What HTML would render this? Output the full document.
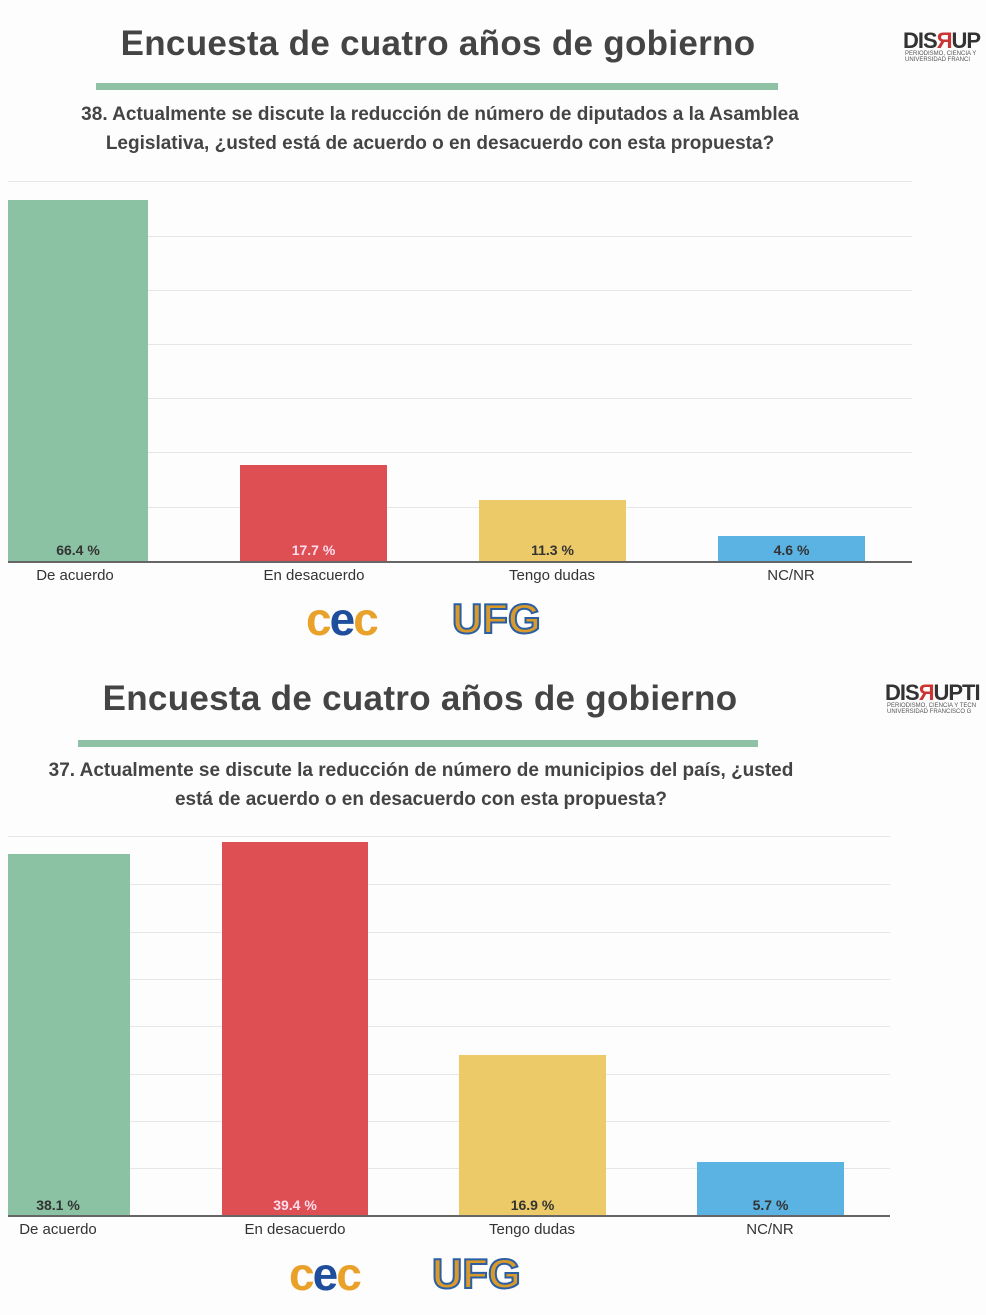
<!DOCTYPE html>
<html><head><meta charset="utf-8"><style>
body{margin:0;width:986px;height:1315px;background:#fdfdfd;position:relative;overflow:hidden;font-family:"Liberation Sans",sans-serif;}
.a{position:absolute}
.t{font-size:35px;font-weight:bold;color:#444;white-space:nowrap;transform:translateX(-50%);letter-spacing:0.3px}
.q{font-size:19px;font-weight:bold;color:#444;text-align:center;line-height:29px;white-space:nowrap;transform:translateX(-50%)}
.g{height:1px;background:#e6e6e6}
.v{font-size:14px;font-weight:bold;text-align:center}
.c{font-size:15px;color:#333;text-align:center;transform:translateX(-50%);white-space:nowrap}
.logo{font-size:46px;font-weight:900}
</style></head><body>
<!-- chart 1 -->
<div class="a t" style="left:438px;top:24px">Encuesta de cuatro años de gobierno</div>
<div class="a" style="left:96px;top:83px;width:682px;height:7px;background:#8fc2a5"></div>
<div class="a q" style="left:440px;top:100px">38. Actualmente se discute la reducción de número de diputados a la Asamblea<br>Legislativa, ¿usted está de acuerdo o en desacuerdo con esta propuesta?</div>
<div class="a" style="left:903px;top:28px;font-size:22px;font-weight:bold;color:#333;letter-spacing:-1px">DIS<span style="color:#c33">Я</span>UP</div>
<div class="a" style="left:905px;top:51px;font-size:6px;color:#555;line-height:6px">PERIODISMO, CIENCIA Y<br>UNIVERSIDAD FRANCI</div>
<div class="a g" style="left:8px;top:181px;width:904px"></div>
<div class="a g" style="left:8px;top:236px;width:904px"></div>
<div class="a g" style="left:8px;top:290px;width:904px"></div>
<div class="a g" style="left:8px;top:344px;width:904px"></div>
<div class="a g" style="left:8px;top:398px;width:904px"></div>
<div class="a g" style="left:8px;top:452px;width:904px"></div>
<div class="a g" style="left:8px;top:507px;width:904px"></div>
<div class="a" style="left:8px;top:200px;width:140px;height:362px;background:#8cc2a4"></div>
<div class="a" style="left:240px;top:465px;width:147px;height:97px;background:#dd4f53"></div>
<div class="a" style="left:479px;top:500px;width:147px;height:62px;background:#ecca68"></div>
<div class="a" style="left:718px;top:536px;width:147px;height:26px;background:#5bb3e3"></div>
<div class="a" style="left:8px;top:561px;width:904px;height:2px;background:#666"></div>
<div class="a v" style="left:8px;top:542px;width:140px;color:#333">66.4 %</div>
<div class="a v" style="left:240px;top:542px;width:147px;color:#fde">17.7 %</div>
<div class="a v" style="left:479px;top:542px;width:147px;color:#333">11.3 %</div>
<div class="a v" style="left:718px;top:542px;width:147px;color:#333">4.6 %</div>
<div class="a c" style="left:75px;top:567px">De acuerdo</div>
<div class="a c" style="left:314px;top:567px">En desacuerdo</div>
<div class="a c" style="left:552px;top:567px">Tengo dudas</div>
<div class="a c" style="left:791px;top:567px">NC/NR</div>
<div class="a logo" style="left:306px;top:592px;color:#e9a12a;letter-spacing:-2px">c<span style="color:#1f4e9c">e</span>c</div>
<div class="a logo" style="left:452px;top:595px;color:#d99a2b;font-size:42px;-webkit-text-stroke:2px #2a5fa3">UFG</div>
<!-- chart 2 -->
<div class="a t" style="left:420px;top:679px">Encuesta de cuatro años de gobierno</div>
<div class="a" style="left:78px;top:740px;width:680px;height:7px;background:#8fc2a5"></div>
<div class="a q" style="left:421px;top:756px">37. Actualmente se discute la reducción de número de municipios del país, ¿usted<br>está de acuerdo o en desacuerdo con esta propuesta?</div>
<div class="a" style="left:885px;top:680px;font-size:22px;font-weight:bold;color:#333;letter-spacing:-1px">DIS<span style="color:#c33">Я</span>UPTI</div>
<div class="a" style="left:887px;top:703px;font-size:6px;color:#555;line-height:6px">PERIODISMO, CIENCIA Y TECN<br>UNIVERSIDAD FRANCISCO G</div>
<div class="a g" style="left:8px;top:836px;width:882px"></div>
<div class="a g" style="left:8px;top:884px;width:882px"></div>
<div class="a g" style="left:8px;top:932px;width:882px"></div>
<div class="a g" style="left:8px;top:979px;width:882px"></div>
<div class="a g" style="left:8px;top:1026px;width:882px"></div>
<div class="a g" style="left:8px;top:1074px;width:882px"></div>
<div class="a g" style="left:8px;top:1121px;width:882px"></div>
<div class="a g" style="left:8px;top:1168px;width:882px"></div>
<div class="a" style="left:8px;top:854px;width:122px;height:362px;background:#8cc2a4"></div>
<div class="a" style="left:222px;top:842px;width:146px;height:374px;background:#dd4f53"></div>
<div class="a" style="left:459px;top:1055px;width:147px;height:161px;background:#ecca68"></div>
<div class="a" style="left:697px;top:1162px;width:147px;height:54px;background:#5bb3e3"></div>
<div class="a" style="left:8px;top:1215px;width:882px;height:2px;background:#666"></div>
<div class="a v" style="left:8px;top:1197px;width:100px;color:#333">38.1 %</div>
<div class="a v" style="left:222px;top:1197px;width:146px;color:#fde">39.4 %</div>
<div class="a v" style="left:459px;top:1197px;width:147px;color:#333">16.9 %</div>
<div class="a v" style="left:697px;top:1197px;width:147px;color:#333">5.7 %</div>
<div class="a c" style="left:58px;top:1221px">De acuerdo</div>
<div class="a c" style="left:295px;top:1221px">En desacuerdo</div>
<div class="a c" style="left:532px;top:1221px">Tengo dudas</div>
<div class="a c" style="left:770px;top:1221px">NC/NR</div>
<div class="a logo" style="left:289px;top:1247px;color:#e9a12a;letter-spacing:-2px">c<span style="color:#1f4e9c">e</span>c</div>
<div class="a logo" style="left:432px;top:1250px;color:#d99a2b;font-size:42px;-webkit-text-stroke:2px #2a5fa3">UFG</div>
</body></html>
